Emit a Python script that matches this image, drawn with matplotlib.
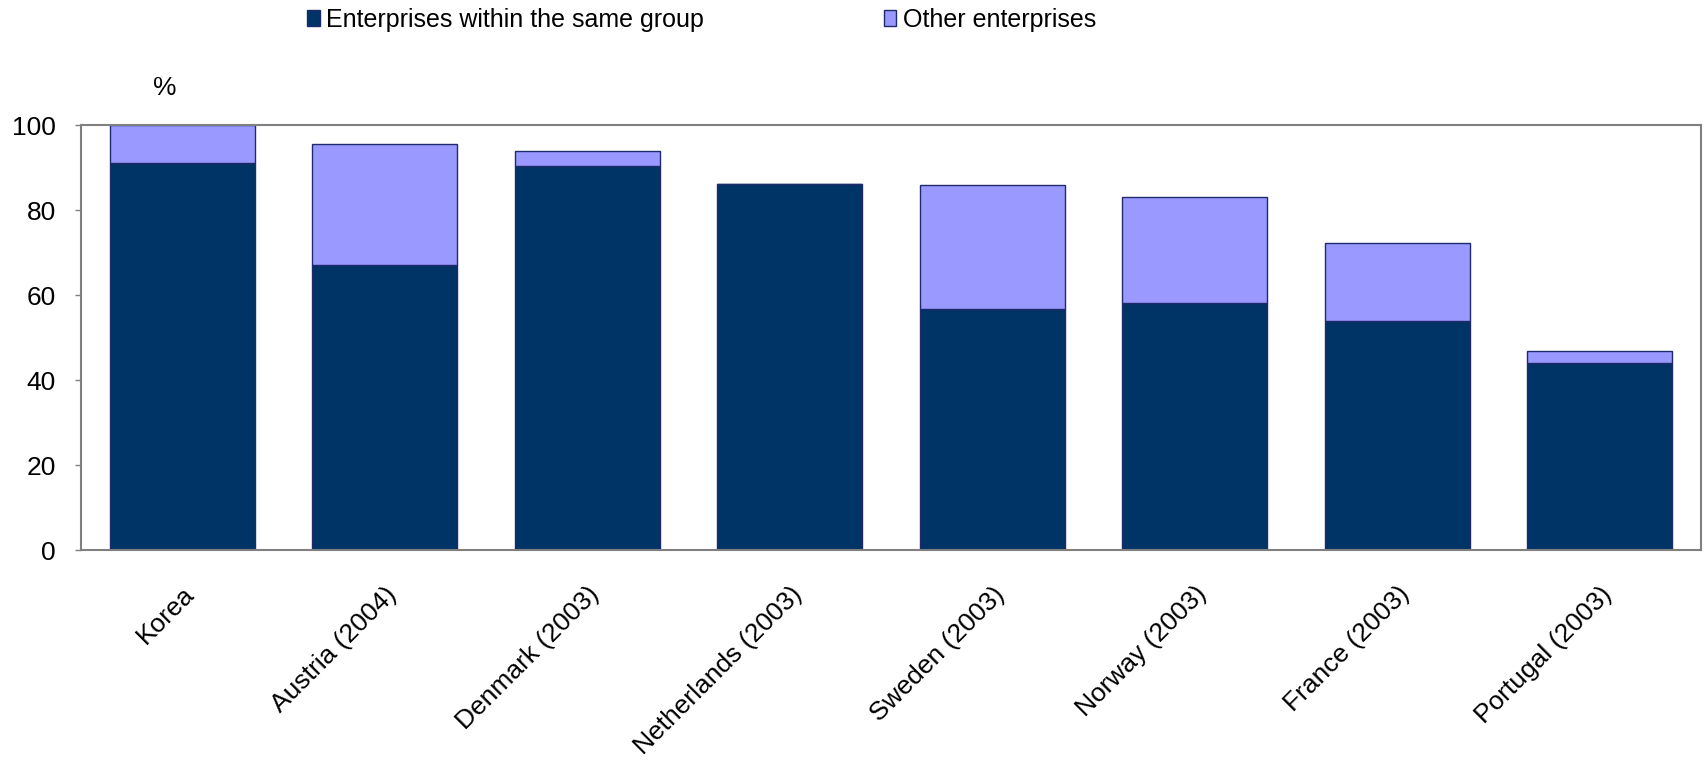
import matplotlib
matplotlib.use("Agg")
import matplotlib.pyplot as plt
import numpy as np

countries = ["Korea", "Austria (2004)", "Denmark (2003)", "Netherlands (2003)",
             "Sweden (2003)", "Norway (2003)", "France (2003)", "Portugal (2003)"]
same_group = [91.0, 67.2, 90.5, 86.2, 56.7, 58.1, 54.0, 44.0]
other_enterprises = [9.0, 28.4, 3.4, 0.0, 29.1, 25.0, 18.3, 2.9]
y_ticks = [0, 20, 40, 60, 80, 100]

DARK = "#003366"
LIGHT = "#9999ff"
EDGE = "#1f2a6b"

plt.rcParams["font.family"] = ["Liberation Sans", "DejaVu Sans"]

fig = plt.figure(figsize=(17.07, 7.63), dpi=100)
ax = fig.add_axes([0.0475, 0.279, 0.949, 0.557])

x = np.arange(len(countries))
width = 0.716
b1 = ax.bar(x, same_group, width, color=DARK, edgecolor=EDGE, linewidth=1.0,
            label="Enterprises within the same group")
b2 = ax.bar(x, other_enterprises, width, bottom=same_group, color=LIGHT,
            edgecolor=EDGE, linewidth=1.0, label="Other enterprises")

ax.set_xlim(-0.5, len(countries) - 0.5)
ax.set_ylim(0, 100)
ax.set_yticks(y_ticks)
ax.set_yticklabels([str(t) for t in y_ticks], fontsize=19)
ax.tick_params(axis="y", direction="out", length=4, width=1, color="#808080", pad=14)
ax.tick_params(axis="x", length=0, pad=23)
ax.set_xticks(x)
ax.set_xticklabels(countries, rotation=45, ha="right", va="top",
                   rotation_mode="anchor", fontsize=19)

for side in ["left", "right", "top", "bottom"]:
    ax.spines[side].set_color("#808080")
    ax.spines[side].set_linewidth(1.5)

fig.text(0.0967, 0.885, "%", fontsize=19, ha="center", va="center")

fig.legend(handles=[b1, b2], loc="center", bbox_to_anchor=(0.411, 0.974),
           ncol=2, frameon=False, fontsize=18, handlelength=0.5, handleheight=0.55,
           handletextpad=0.25, columnspacing=7.2)

fig.savefig("out.png", dpi=100, facecolor="white")
